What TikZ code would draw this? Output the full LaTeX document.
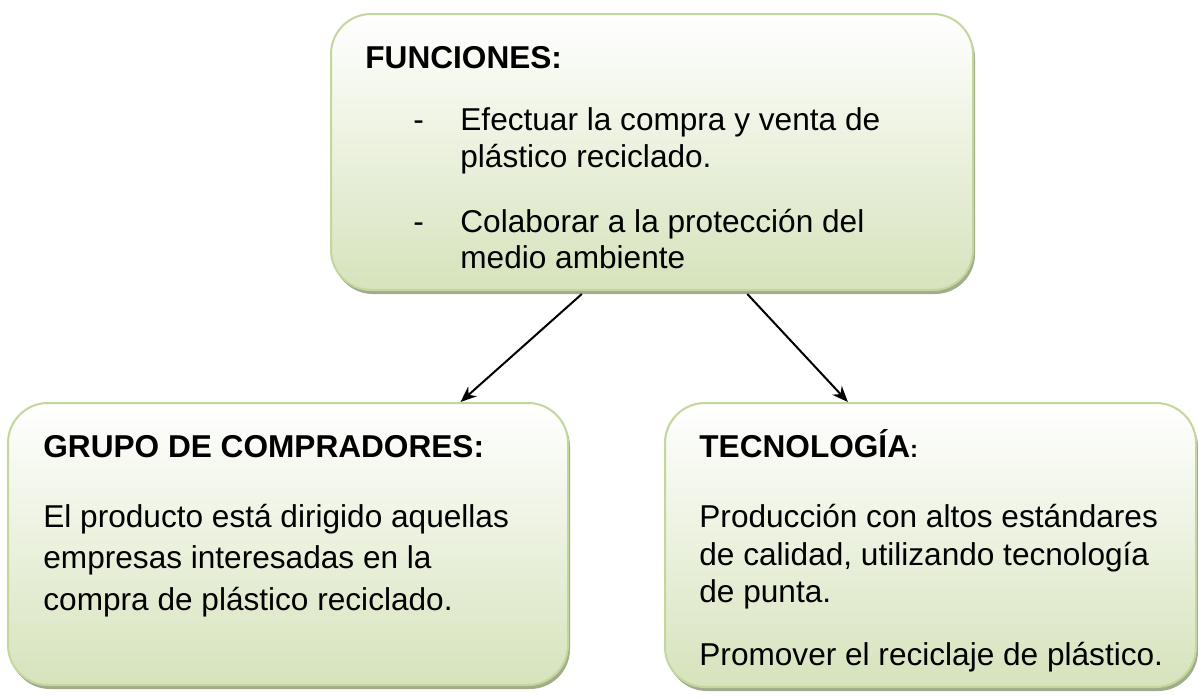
\documentclass[tikz,border=0pt]{standalone}
\usepackage{fontspec}
\setmainfont{Liberation Sans}
\usetikzlibrary{arrows.meta,shadows,calc}
\definecolor{boxgreen}{RGB}{214,227,188}
\definecolor{boxline}{RGB}{195,214,155}
\definecolor{shadowgreen}{RGB}{160,172,138}
\definecolor{ink}{RGB}{0,0,0}

\begin{document}
\begin{tikzpicture}[x=.5pt,y=-.5pt,
 every node/.style={font=\fontsize{15.8}{19}\selectfont,text=ink,inner sep=0pt},
 greenbox/.style={rectangle,rounded corners=20pt,draw=boxline,line width=1pt,
   top color=white,bottom color=boxgreen,
   drop shadow={shadow xshift=1pt,shadow yshift=-2pt,fill=shadowgreen,opacity=1}},
 head/.style={anchor=base west,font=\fontsize{15.8}{19}\selectfont\bfseries},
 txt/.style={anchor=base west},
 link/.style={ink,line width=1pt,-{Stealth[length=8pt,width=6.5pt]}}]
 \useasboundingbox (0,0) rectangle (1198,698);
 % boxes
 \node[greenbox,minimum width=321pt,minimum height=138pt] (fun) at (652,152) {};
 \node[greenbox,minimum width=280pt,minimum height=141pt] (grp) at (288,544) {};
 \node[greenbox,minimum width=265.5pt,minimum height=142pt] (tec) at (930.5,545) {};
 % funciones
 \node[head] (funh) at (365,68) {FUNCIONES:};
 \foreach \y in {130,232}{
  \node[txt] (d\y) at (413,\y) {-};}
 \foreach \y/\t [count=\i] in {130/{Efectuar la compra y venta de},
   167/{plástico reciclado.},232/{Colaborar a la protección del},
   268/{medio ambiente}}{
  \node[txt] (f\i) at (460,\y) {\t};}
 % grupo de compradores
 \node[head] (grph) at (43,457) {GRUPO DE COMPRADORES:};
 \foreach \y/\t [count=\i] in {527/{El producto está dirigido aquellas},
   568/{empresas interesadas en la},610/{compra de plástico reciclado.}}{
  \node[txt] (g\i) at (43,\y) {\t};}
 % tecnologia
 \node[head] (tech) at (699,457) {TECNOLOGÍA\fontsize{12}{14}\selectfont:};
 \foreach \y/\t [count=\i] in {527/{Producción con altos estándares},
   565/{de calidad, utilizando tecnología},602/{de punta.},
   665/{Promover el reciclaje de plástico.}}{
  \node[txt] (t\i) at (699,\y) {\t};}
 % arrows
 \coordinate (fa) at ($(fun.south west)!.391!(fun.south east)+(0,3)$);
 \coordinate (fb) at ($(fun.south west)!.648!(fun.south east)+(0,3)$);
 \coordinate (ga) at ($(grp.north west)!.807!(grp.north east)$);
 \coordinate (ta) at ($(tec.north west)!.345!(tec.north east)$);
 \draw[link] (fa) -- (ga);
 \draw[link] (fb) -- (ta);
\end{tikzpicture}
\end{document}
